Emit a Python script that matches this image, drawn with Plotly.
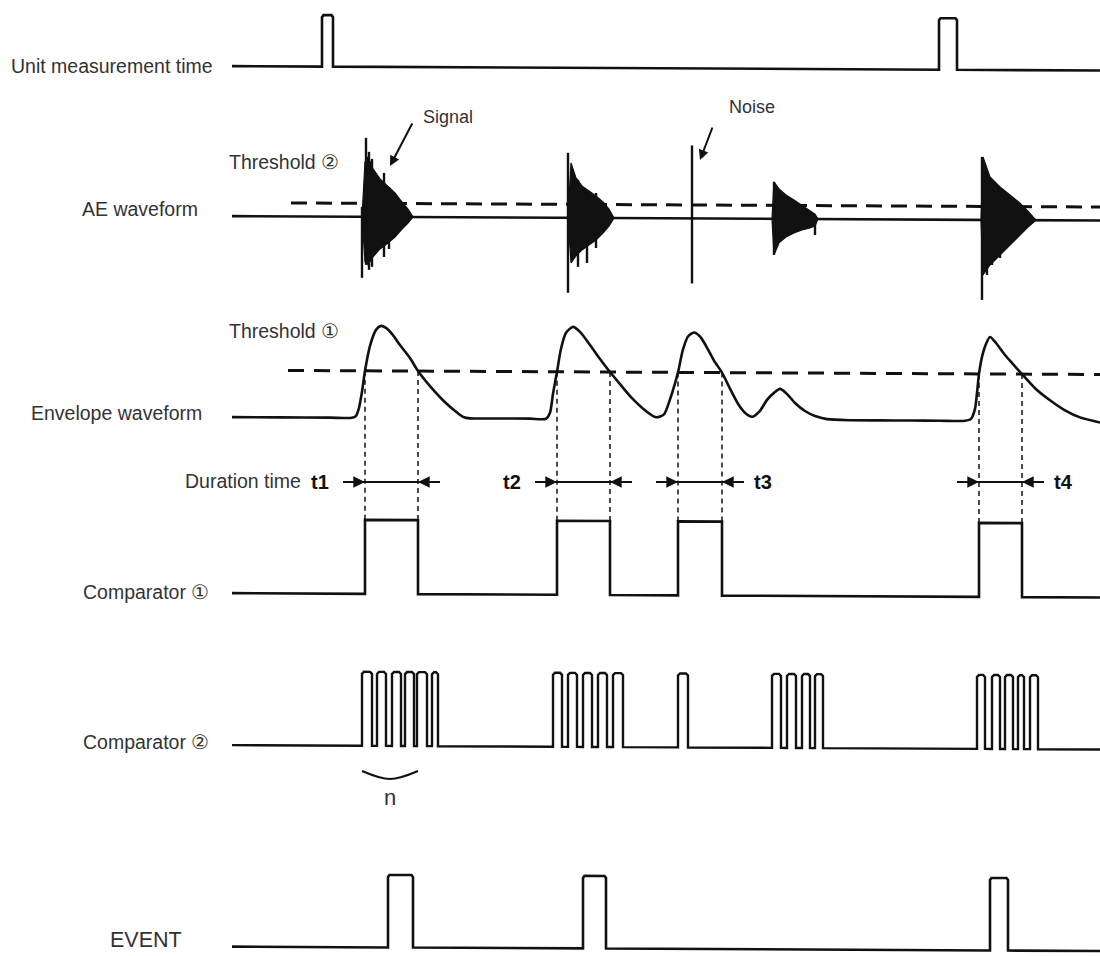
import plotly.graph_objects as go

# ---------------------------------------------------------------- data ----
# time axis: one common horizontal time scale (diagram units) for all rows
row_labels = ["Unit measurement time", "AE waveform", "Envelope waveform",
              "Comparator ①", "Comparator ②", "EVENT"]
threshold_labels = ["Threshold ②", "Threshold ①"]
duration_labels = ["t1", "t2", "t3", "t4"]
duration_label_side = ["left", "left", "right", "right"]

unit_gate_pulses = [(322, 333), (939, 957)]

# AE bursts: outline (time, upper amplitude, lower amplitude)
ae_burst_t = [
    [362, 365, 368, 373, 380, 388, 395, 402, 408, 413],
    [568, 571, 576, 582, 589, 596, 603, 609, 614],
    [772, 774, 779, 786, 794, 802, 810, 815, 818],
    [981, 983, 990, 1000, 1010, 1020, 1028, 1036],
]
ae_burst_up = [
    [0, 55, 60, 48, 38, 30, 24, 15, 8, 0],
    [0, 55, 40, 32, 27, 22, 16, 9, 0],
    [0, 37, 30, 24, 19, 14, 9, 5, 0],
    [0, 63, 43, 33, 25, 17, 9, 0],
]
ae_burst_dn = [
    [0, 45, 48, 40, 32, 26, 20, 12, 6, 0],
    [0, 45, 38, 32, 27, 22, 15, 8, 0],
    [0, 36, 24, 18, 14, 11, 9, 7, 0],
    [0, 55, 45, 35, 25, 15, 7, 0],
]
# individual large oscillation spikes (incl. the noise spike at 692)
ae_spike_t = [362, 366, 369, 372, 384, 389, 568, 578, 587, 596, 692, 774, 815, 982, 987, 992, 1000]
ae_spike_up = [10, 79, 65, 58, 44, 30, 65, 38, 26, 25, 73, 37, 3, 63, 48, 40, 32]
ae_spike_dn = [61, 48, 53, 50, 40, 32, 75, 49, 45, 30, 65, 36, 16, 80, 55, 45, 38]

# envelope waveform (amplitude above its baseline)
envelope_t = [232, 280, 330, 352, 356, 359, 362, 365, 370, 376, 381, 386, 392, 400, 410, 418, 430, 445, 458, 464,
              470, 500, 530, 546, 550, 553, 557, 561, 566, 573, 580, 590, 600, 610, 620, 632, 645, 656,
              664, 670, 675, 678, 683, 688, 694, 700, 707, 714, 722, 730, 738, 745, 752,
              760, 767, 774, 780, 787, 795, 805, 815, 827,
              850, 880, 910, 940, 965, 971, 975, 977, 979, 982, 986, 990, 996, 1005, 1013, 1022,
              1035, 1050, 1065, 1080, 1100]
envelope_v = [0, 0, 0, 0, 2, 10, 26, 47, 72, 88, 92, 90, 84, 73, 60, 47, 32, 16, 5, 1,
              0, 0, 0, 0, 6, 25, 47, 70, 86, 92, 87, 74, 60, 47, 35, 21, 9, 2,
              5, 20, 36, 47, 70, 83, 87, 83, 72, 59, 47, 31, 16, 7, 3,
              9, 20, 27, 31, 26, 17, 9, 4, 1,
              0, 0, 0, 0, 0, 2, 12, 28, 47, 64, 77, 84, 78, 66, 57, 47,
              33, 21, 11, 4, -1]
threshold1_level = 47

# threshold-1 crossings of the envelope -> comparator 1 pulses / duration times
threshold1_crossings = [(365, 418), (557, 610), (678, 722), (979, 1022)]

# comparator 2 pulses (threshold-2 crossings of the AE waveform)
comparator2_pulses = [(362, 372), (377, 386), (392, 401), (405, 414), (417, 427), (432, 438),
                      (553, 562), (568, 577), (583, 592), (598, 607), (613, 623),
                      (678, 688),
                      (772, 781), (787, 796), (802, 810), (815, 823),
                      (977, 985), (992, 1000), (1005, 1013), (1018, 1024), (1030, 1038)]

event_pulses = [(388, 413), (583, 606), (990, 1008)]

# -------------------------------------------------------------- layout ----
W, H = 1100, 956
START, END = 232, 1100
TILT = 0.005          # slight slope of the scanned original
UNIT_Y, UNIT_H = 68, 51.5
AE_Y, THR2_Y = 218, 204.5
ENV_Y = 419
COMP1_Y, COMP1_H = 595, 74
COMP2_Y, COMP2_H = 747, 74
EVENT_Y, EVENT_H = 948.5, 72.5
DUR_Y = 482
OVERHANG = 22
INK = "#111111"
TXT = "#333333"
FONT = "Liberation Sans, Arial, sans-serif"


def ty(x, y):
    return y + TILT * (x - 600)


def logic_path(pulses, base, height, c=0.0):
    xs, ys = [START], [base]
    r = 2 if c else 0
    for t0, t1 in pulses:
        xs += [t0, t0, t0 + c, t1 - c, t1, t1]
        ys += [base, base - height + r, base - height, base - height, base - height + r, base]
    xs.append(END)
    ys.append(base)
    return xs, [ty(x, y) for x, y in zip(xs, ys)]


fig = go.Figure()


def add_line(xs, ys, width=2.6, dash=None, shape="linear", color=INK, fill=None, smoothing=1.0):
    line = dict(color=color, width=width, dash=dash, shape=shape)
    if shape == "spline":
        line["smoothing"] = smoothing
    fig.add_trace(go.Scatter(x=xs, y=ys, mode="lines", hoverinfo="skip", line=line,
                             fill=fill, fillcolor=color if fill else None))


# unit measurement time
add_line(*logic_path(unit_gate_pulses, UNIT_Y, UNIT_H, c=1.5))

# AE waveform
add_line([START, END], [ty(START, AE_Y), ty(END, AE_Y)])
for bt, bu, bd in zip(ae_burst_t, ae_burst_up, ae_burst_dn):
    xs = list(bt) + list(reversed(bt))
    ys = [ty(t, AE_Y - u) for t, u in zip(bt, bu)] + \
         [ty(t, AE_Y + d) for t, d in zip(reversed(bt), reversed(bd))]
    add_line(xs, ys, width=1.2, fill="toself")
sx, sy = [], []
for t, u, d in zip(ae_spike_t, ae_spike_up, ae_spike_dn):
    sx += [t, t, None]
    sy += [ty(t, AE_Y - u), ty(t, AE_Y + d), None]
add_line(sx, sy, width=2.4)
add_line([291, END], [ty(291, THR2_Y), ty(END, THR2_Y)], width=3, dash="16px,9px")

# envelope waveform
add_line(envelope_t, [ty(t, ENV_Y - v) for t, v in zip(envelope_t, envelope_v)],
         shape="spline", smoothing=0.7)
THR1_Y = ENV_Y - threshold1_level
add_line([288, END], [ty(288, THR1_Y), ty(END, THR1_Y)], width=3, dash="16px,10px")

# projection lines from threshold crossings to comparator 1
vx, vy = [], []
for pair in threshold1_crossings:
    for t in pair:
        vx += [t, t, None]
        vy += [ty(t, THR1_Y), ty(t, COMP1_Y - COMP1_H), None]
add_line(vx, vy, width=1.5, dash="5px,4px")

# duration time arrows
annotations = []
for (t0, t1), lab, side in zip(threshold1_crossings, duration_labels, duration_label_side):
    xl, xr = t0 - OVERHANG, t1 + OVERHANG
    add_line([xl, xr], [DUR_Y, DUR_Y], width=1.8)
    for head, tail in ((t0, xl), (t1, xr)):
        annotations.append(dict(x=head, y=DUR_Y, ax=tail, ay=DUR_Y, xref="x", yref="y",
                                axref="x", ayref="y", showarrow=True, arrowhead=2,
                                arrowsize=1.3, arrowwidth=1.8, arrowcolor=INK, text=""))
    if side == "left":
        annotations.append(dict(x=xl - 12, y=DUR_Y, text="<b>" + lab + "</b>", showarrow=False,
                                xanchor="right", font=dict(size=20, color=INK, family=FONT)))
    else:
        annotations.append(dict(x=xr + 8, y=DUR_Y, text="<b>" + lab + "</b>", showarrow=False,
                                xanchor="left", font=dict(size=20, color=INK, family=FONT)))

# comparators and event
add_line(*logic_path(threshold1_crossings, COMP1_Y, COMP1_H))
add_line(*logic_path(comparator2_pulses, COMP2_Y, COMP2_H, c=2), width=2.4)
add_line(*logic_path(event_pulses, EVENT_Y, EVENT_H, c=1.5))

# bracket "n" under first comparator-2 train
add_line([362, 390, 418], [771, 779, 771], width=2, shape="spline")

# ---------------------------------------------------------------- text ----
def label(x, y, text, size=19.5, anchor="left"):
    annotations.append(dict(x=x, y=y, text=text, showarrow=False, xanchor=anchor, yanchor="middle",
                            font=dict(size=size, color=TXT, family=FONT)))


label(9, 66, row_labels[0])
label(80, 209, row_labels[1])
label(29, 413, row_labels[2])
label(81, 592, row_labels[3])
label(81, 742, row_labels[4])
label(108, 940, row_labels[5], size=21.5)
label(227, 162, threshold_labels[0])
label(227, 331, threshold_labels[1])
label(303, 481, "Duration time", anchor="right")
label(421, 117, "Signal", size=18)
label(727, 107, "Noise", size=18)
label(390, 797, "n", size=22, anchor="center")

annotations.append(dict(x=390, y=166, ax=413, ay=122, xref="x", yref="y", axref="x", ayref="y",
                        showarrow=True, arrowhead=2, arrowsize=1, arrowwidth=2, arrowcolor=INK, text=""))
annotations.append(dict(x=700, y=160, ax=713, ay=126, xref="x", yref="y", axref="x", ayref="y",
                        showarrow=True, arrowhead=2, arrowsize=1, arrowwidth=2, arrowcolor=INK, text=""))

fig.update_layout(
    width=W, height=H, margin=dict(l=0, r=0, t=0, b=0),
    paper_bgcolor="white", plot_bgcolor="white", showlegend=False,
    xaxis=dict(range=[0, W], visible=False, fixedrange=True),
    yaxis=dict(range=[H, 0], visible=False, fixedrange=True),
    annotations=annotations,
)

fig.write_html("out.html")
